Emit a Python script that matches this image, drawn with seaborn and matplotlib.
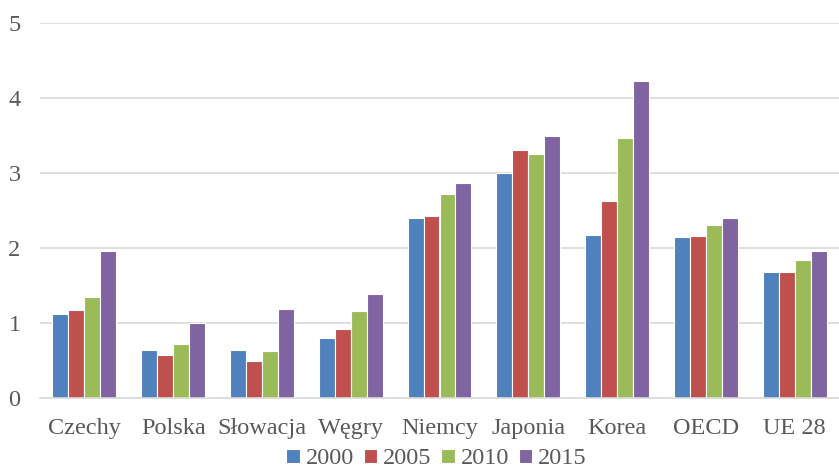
import matplotlib
matplotlib.use("Agg")
import matplotlib.pyplot as plt
import seaborn as sns
import pandas as pd

categories = ["Czechy", "Polska", "Słowacja", "Węgry", "Niemcy", "Japonia", "Korea", "OECD", "UE 28"]
years = ["2000", "2005", "2010", "2015"]
v2000 = [1.11, 0.64, 0.64, 0.79, 2.40, 3.00, 2.17, 2.14, 1.68]
v2005 = [1.17, 0.57, 0.49, 0.92, 2.42, 3.31, 2.63, 2.16, 1.67]
v2010 = [1.34, 0.72, 0.62, 1.15, 2.72, 3.25, 3.47, 2.30, 1.84]
v2015 = [1.95, 1.00, 1.18, 1.38, 2.87, 3.49, 4.23, 2.40, 1.95]
colors = ["#4F81BD", "#C0504D", "#9BBB59", "#8064A2"]

rows = []
for year, vals in zip(years, [v2000, v2005, v2010, v2015]):
    for cat, v in zip(categories, vals):
        rows.append({"kraj": cat, "rok": year, "wartosc": v})
df = pd.DataFrame(rows)

sns.set_theme(style="white")
plt.rcParams["font.family"] = ["Liberation Serif", "DejaVu Serif"]

fig = plt.figure(figsize=(8.39, 4.68), dpi=100)
ax = fig.add_axes([40 / 839, 1 - 397.5 / 468, 799 / 839, 374.5 / 468])

sns.barplot(data=df, x="kraj", y="wartosc", hue="rok", hue_order=years,
            order=categories, palette=colors, width=0.72, ax=ax,
            edgecolor="white", linewidth=0.8, saturation=1, errorbar=None)

ax.set_ylim(0, 5)
ax.set_xlim(-0.5, len(categories) - 0.5)
ax.set_yticks(range(6))
ax.yaxis.grid(True, color="#d9d9d9", linewidth=1.2)
ax.set_axisbelow(True)
for s in ["top", "right", "left"]:
    ax.spines[s].set_visible(False)
ax.spines["bottom"].set_color("#d9d9d9")
ax.spines["bottom"].set_linewidth(1.2)
ax.set_xlabel("")
ax.set_ylabel("")
ax.tick_params(axis="both", length=0, labelsize=17.5, colors="#595959")
ax.tick_params(axis="x", pad=15)
ax.tick_params(axis="y", pad=14)

handles, labels = ax.get_legend_handles_labels()
ax.get_legend().remove()
fig.legend(handles, labels, loc="center", bbox_to_anchor=(436.5 / 839, 1 - 459 / 468),
           ncol=4, frameon=False, fontsize=17.5,
           handlelength=0.55, handleheight=0.55, handletextpad=0.25,
           columnspacing=0.4, labelcolor="#595959", borderpad=0)

fig.savefig("out.png", dpi=100)
